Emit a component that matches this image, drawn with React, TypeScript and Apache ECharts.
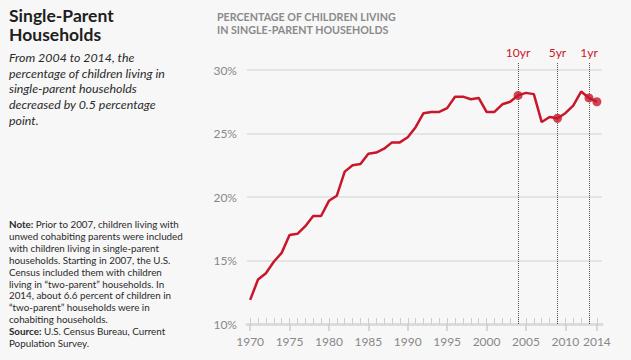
import React, { useEffect, useRef } from 'react';
import * as echarts from 'echarts';

const years = [
  1970, 1971, 1972, 1973, 1974, 1975, 1976, 1977, 1978, 1979,
  1980, 1981, 1982, 1983, 1984, 1985, 1986, 1987, 1988, 1989,
  1990, 1991, 1992, 1993, 1994, 1995, 1996, 1997, 1998, 1999,
  2000, 2001, 2002, 2003, 2004, 2005, 2006, 2007, 2008, 2009,
  2010, 2011, 2012, 2013, 2014,
];
const values = [
  11.9, 13.5, 14.0, 14.9, 15.6, 17.0, 17.1, 17.7, 18.5, 18.5,
  19.7, 20.1, 22.0, 22.5, 22.6, 23.4, 23.5, 23.8, 24.3, 24.3,
  24.7, 25.5, 26.6, 26.7, 26.7, 27.0, 27.9, 27.9, 27.7, 27.8,
  26.7, 26.7, 27.3, 27.5, 28.0, 28.2, 28.1, 25.9, 26.3, 26.2,
  26.6, 27.2, 28.3, 27.8, 27.5,
];
const markedYears = [2004, 2009, 2013, 2014];
const refLineYears = [2004, 2009, 2013];
const refLineLabels = ['10yr', '5yr', '1yr'];
const xLabelYears = [1970, 1975, 1980, 1985, 1990, 1995, 2000, 2005, 2010, 2014];

const chartTitleLines = ['PERCENTAGE OF CHILDREN LIVING', 'IN SINGLE-PARENT HOUSEHOLDS'];
const headLines = ['Single-Parent', 'Households'];
const summaryLines = [
  'From 2004 to 2014, the',
  'percentage of children living in',
  'single-parent households',
  'decreased by 0.5 percentage',
  'point.',
];
const noteLines = [
  '{b|Note:} Prior to 2007, children living with',
  'unwed cohabiting parents were included',
  'with children living in single-parent',
  'households. Starting in 2007, the U.S.',
  'Census included them with children',
  'living in \u201Ctwo-parent\u201D households. In',
  '2014, about 6.6 percent of children in',
  '\u201Ctwo-parent\u201D households were in',
  'cohabiting households.',
  '{b|Source:} U.S. Census Bureau, Current',
  'Population Survey.',
];

const RED = '#c8172a';
const X_MIN = 1969.6;
const X_MAX = 2014.65;
const Y_MAX = 30.63;
const FONT = 'Lato, "Open Sans", sans-serif';

export default function App() {
  const ref = useRef<HTMLDivElement>(null);
  useEffect(() => {
    document.body.style.margin = '0';
    const chart = echarts.init(ref.current!, null, { renderer: 'svg' });
    const gridRect = { left: 247, right: 29, top: 62, bottom: 36 };
    const graphics: any[] = [];
    chartTitleLines.forEach((t, i) => {
      graphics.push({
        type: 'text', x: 217, y: 16 + i * 13.5,
        style: { text: t, font: `bold 10.7px ${FONT}`, fill: '#8a8a8a', verticalAlign: 'middle', lineHeight: 13 },
      });
    });
    headLines.forEach((t, i) => {
      graphics.push({
        type: 'text', x: 9, y: 15 + i * 19.3,
        style: { text: t, font: `bold 17.5px ${FONT}`, fill: '#1e1e1e', verticalAlign: 'middle', lineHeight: 19 },
      });
    });
    summaryLines.forEach((t, i) => {
      graphics.push({
        type: 'text', x: 9, y: 57.7 + i * 15.6,
        style: { text: t, font: `italic 12.4px ${FONT}`, fill: '#2a2a2a', verticalAlign: 'middle', lineHeight: 15 },
      });
    });
    noteLines.forEach((t, i) => {
      graphics.push({
        type: 'text', x: 9, y: 224 + i * 11.9,
        style: {
          text: t, font: `9.8px ${FONT}`, fill: '#2a2a2a', verticalAlign: 'middle', lineHeight: 11.5,
          rich: { b: { font: `bold 9.8px ${FONT}`, fill: '#2a2a2a', verticalAlign: 'middle', lineHeight: 11.5 } },
        },
      });
    });

    chart.setOption({
      animation: false,
      backgroundColor: '#f7f7f7',
      grid: [
        { ...gridRect },
        { ...gridRect },
      ],
      xAxis: [
        {
          type: 'value', min: X_MIN, max: X_MAX, gridIndex: 0,
          axisLine: { show: true, lineStyle: { color: '#dcdcdc', width: 3 } },
          axisTick: { show: true, inside: true, length: 6, customValues: years, lineStyle: { color: '#cdcdcd', width: 1 } },
          axisLabel: { show: false },
          splitLine: { show: false },
        },
        {
          type: 'value', min: X_MIN, max: X_MAX, gridIndex: 1, position: 'bottom',
          axisLine: { show: false },
          axisTick: { show: true, length: 7, customValues: xLabelYears, lineStyle: { color: '#cdcdcd', width: 1.5 } },
          axisLabel: {
            show: true, customValues: xLabelYears, formatter: (v: number) => String(v),
            color: '#888', fontSize: 12, fontFamily: FONT, margin: 11,
          },
          splitLine: { show: false },
        },
      ],
      yAxis: [
        {
          type: 'value', min: 10, max: Y_MAX, interval: 5, gridIndex: 0,
          axisLine: { show: false }, axisTick: { show: false },
          axisLabel: {
            formatter: (v: number) => (Math.abs(v % 5) < 1e-6 ? `${v}%` : ''),
            color: '#888', fontSize: 12, fontFamily: FONT, margin: 10, showMaxLabel: false,
          },
          splitLine: { show: true, showMinLine: false, showMaxLine: false, lineStyle: { color: '#dedede', width: 1.5 } },
        },
        { type: 'value', min: 0, max: 1, gridIndex: 1, show: false },
      ],
      graphic: graphics,
      series: [
        {
          type: 'line', xAxisIndex: 0, yAxisIndex: 0,
          data: years.map((y, i) => [y, values[i]]),
          symbol: 'none', clip: false,
          lineStyle: { color: RED, width: 2.5 },
          itemStyle: { color: RED },
          z: 3,
          markLine: {
            silent: true, symbol: ['none', 'none'],
            lineStyle: { type: 'dotted', color: '#555', width: 1 },
            label: { show: true, position: 'end', color: RED, fontSize: 12, fontFamily: FONT, formatter: '{b}', distance: 4 },
            data: refLineYears.map((y, i) => [
              { name: refLineLabels[i], coord: [y, 10] },
              { name: refLineLabels[i], coord: [y, Y_MAX] },
            ]),
          },
        },
        {
          type: 'scatter', xAxisIndex: 0, yAxisIndex: 0,
          data: markedYears.map((y) => [y, values[years.indexOf(y)]]),
          symbolSize: 9, itemStyle: { color: RED }, z: 5,
        },
      ],
    });
    return () => chart.dispose();
  }, []);
  return <div ref={ref} style={{ width: 631, height: 360 }} />;
}
